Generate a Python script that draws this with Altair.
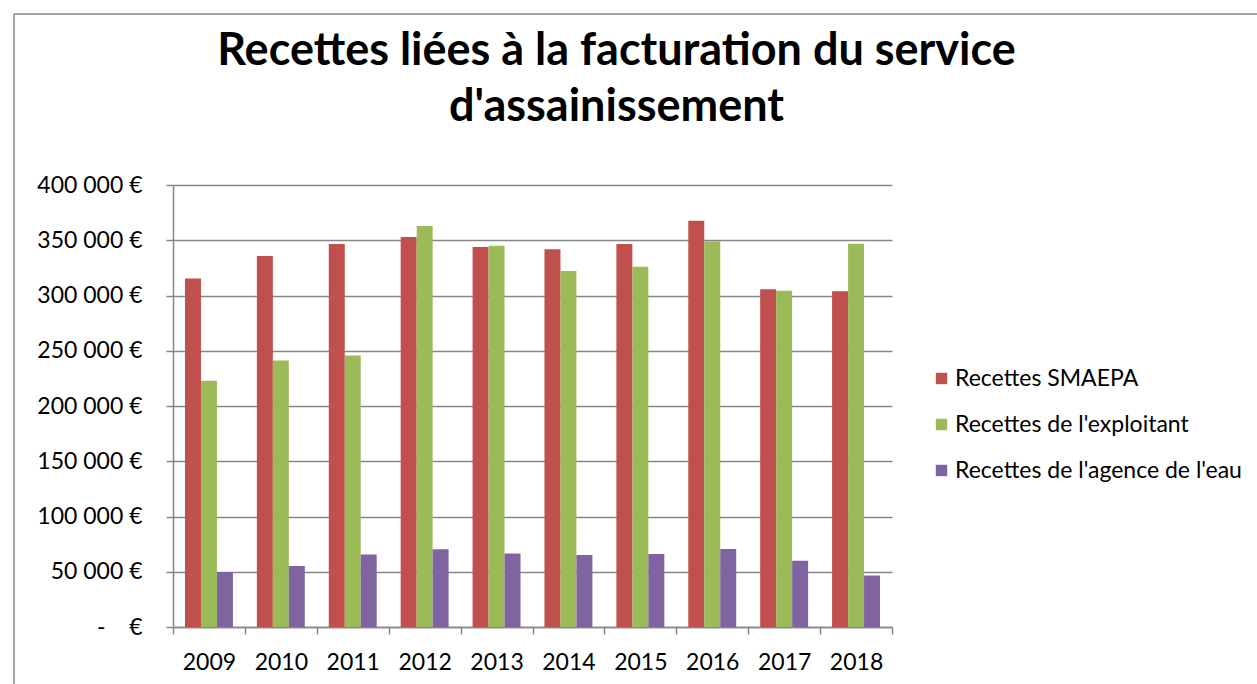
import altair as alt
import pandas as pd

years = ["2009", "2010", "2011", "2012", "2013", "2014", "2015", "2016", "2017", "2018"]
series = ["Recettes SMAEPA", "Recettes de l'exploitant", "Recettes de l'agence de l'eau"]
smaepa = [315300, 335800, 346700, 353000, 344000, 341800, 346700, 367700, 305600, 303800]
exploitant = [222800, 241100, 245700, 362900, 345100, 322200, 326100, 349000, 304200, 346900]
agence = [49700, 55200, 65500, 70300, 66600, 65100, 66000, 70500, 60000, 46700]
colors = ["#C0504D", "#9BBB59", "#8064A2"]
y_ticks = [0, 50000, 100000, 150000, 200000, 250000, 300000, 350000, 400000]

rows = []
for s, vals in zip(series, [smaepa, exploitant, agence]):
    for yr, v in zip(years, vals):
        rows.append({"year": yr, "serie": s, "value": v})
df = pd.DataFrame(rows)

FONT = "Lato"
GRID = "#868686"
FS = 23

bars = alt.Chart(df).mark_bar().encode(
    x=alt.X("year:N", sort=years,
            scale=alt.Scale(paddingInner=0, paddingOuter=0),
            axis=alt.Axis(title=None, labelAngle=0, tickBand="extent", ticks=True,
                          tickSize=7, tickColor=GRID, domainColor=GRID, domainWidth=1.5,
                          tickWidth=1.5, labelFont=FONT, labelFontSize=FS,
                          labelColor="black", labelPadding=17, grid=False)),
    xOffset=alt.XOffset("serie:N", sort=series,
                        scale=alt.Scale(paddingInner=0, paddingOuter=0.75)),
    y=alt.Y("value:Q",
            scale=alt.Scale(domain=[0, 400000], nice=False),
            axis=alt.Axis(title=None, values=y_ticks, tickSize=7, tickColor=GRID,
                          tickWidth=1.5, domainColor=GRID, domainWidth=1.5,
                          gridColor=GRID, gridWidth=1.5, labelFont=FONT,
                          labelFontSize=FS, labelColor="black", labelPadding=24,
                          labelExpr="datum.value == 0 ? '-\u00a0\u00a0\u00a0\u00a0€' : format(datum.value / 1000, 'd') + '\u00a0000\u00a0€'")),
    color=alt.Color("serie:N", sort=series,
                    scale=alt.Scale(domain=series, range=colors),
                    legend=alt.Legend(title=None, orient="none", legendX=757, legendY=182,
                                      symbolType="square", symbolSize=130,
                                      symbolStrokeWidth=0, labelFont=FONT,
                                      labelFontSize=FS, labelColor="black", labelLimit=0,
                                      rowPadding=22, labelOffset=2)),
)

frame_data = pd.DataFrame({"k": [0]})
top_line = alt.Chart(frame_data).mark_rule(color=GRID, strokeWidth=1.5).encode(
    x=alt.value(-159), x2=alt.value(1090), y=alt.value(-171))
left_line = alt.Chart(frame_data).mark_rule(color=GRID, strokeWidth=1.5).encode(
    x=alt.value(-159), y=alt.value(-171), y2=alt.value(510))

chart = alt.layer(bars, top_line, left_line).properties(
    width=719,
    height=442,
    title=alt.TitleParams(
        text=["Recettes liées à la facturation du service", "d'assainissement"],
        font=FONT, fontSize=45, fontWeight="bold", color="black",
        anchor="middle", frame="group", dx=84, offset=-117, lineHeight=56),
    autosize=alt.AutoSizeParams(type="none"),
    padding={"left": 173, "top": 185, "right": 365, "bottom": 57},
    background="white",
).configure_view(stroke=None)

chart.save("out.html", embed_options={"renderer": "svg", "actions": False})
